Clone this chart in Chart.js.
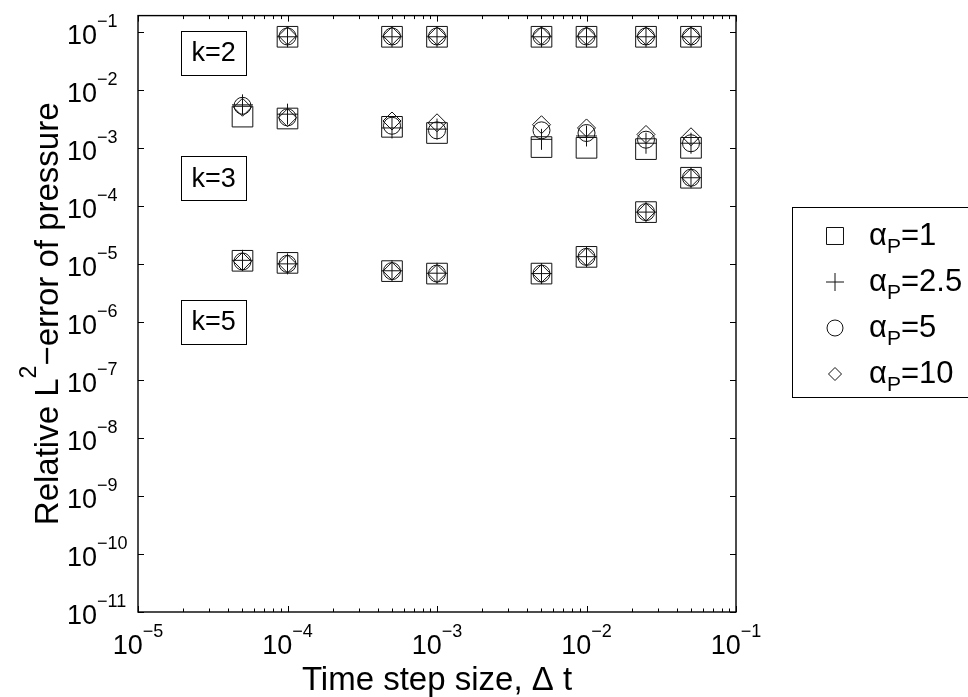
<!DOCTYPE html>
<html>
<head>
<meta charset="utf-8">
<script src="https://cdn.jsdelivr.net/npm/chart.js@4.4.0/dist/chart.umd.min.js"></script>
<style>
  html, body { margin: 0; padding: 0; background: #fff; }
  #wrap { width: 968px; height: 697px; position: relative; }
</style>
</head>
<body>
<div id="wrap"><canvas id="err-chart"></canvas></div>
<script>
// time step sizes
const dt = [5e-5, 1e-4, 5e-4, 1e-3, 5e-3, 1e-2, 2.5e-2, 5e-2];

// penalty parameters, one series each
const alphaP = ['1', '2.5', '5', '10'];

// relative L2 pressure error, rows follow alphaP
const errK2 = [
  [null, 0.082, 0.082, 0.082, 0.082, 0.082, 0.082, 0.082],
  [null, 0.082, 0.082, 0.082, 0.082, 0.082, 0.082, 0.082],
  [null, 0.083, 0.083, 0.083, 0.083, 0.083, 0.083, 0.083],
  [null, 0.085, 0.085, 0.085, 0.085, 0.085, 0.085, 0.085]
];
const errK3 = [
  [3.45e-3, 3.2e-3, 2.3e-3, 1.8e-3, 1.03e-3, 1.0e-3, 0.95e-3, 1.0e-3],
  [5.5e-3, 3.8e-3, 2.2e-3, 2.1e-3, 1.4e-3, 1.6e-3, 1.2e-3, 1.2e-3],
  [5.3e-3, 3.35e-3, 2.4e-3, 2.0e-3, 2.0e-3, 1.8e-3, 1.38e-3, 1.2e-3],
  [5.0e-3, 3.3e-3, 2.9e-3, 2.7e-3, 2.5e-3, 2.2e-3, 1.7e-3, 1.55e-3]
];
const errK5 = [
  [1.13e-5, 1.04e-5, 7.5e-6, 6.8e-6, 6.8e-6, 1.32e-5, 7.8e-5, 3.05e-4],
  [1.15e-5, 1.0e-5, 7.6e-6, 6.9e-6, 6.8e-6, 1.33e-5, 7.8e-5, 3.05e-4],
  [1.1e-5, 1.0e-5, 7.5e-6, 6.8e-6, 6.8e-6, 1.32e-5, 7.8e-5, 3.05e-4],
  [1.1e-5, 1.0e-5, 7.5e-6, 6.8e-6, 6.8e-6, 1.32e-5, 7.8e-5, 3.05e-4]
];

// polynomial degree annotations
const kLabels = ['k=2', 'k=3', 'k=5'];
const kLabelX = [3.2e-5, 3.2e-5, 3.2e-5];
const kLabelY = [4.35e-2, 3.0e-4, 1.0e-6];

const FONT = '"Liberation Sans", Arial, Helvetica, sans-serif';
const markers = [
  { pointStyle: 'rect', radius: 14.6, legendRadius: 12 },
  { pointStyle: 'cross', radius: 10.5, legendRadius: 9 },
  { pointStyle: 'circle', radius: 8.5, legendRadius: 8 },
  { pointStyle: 'rectRot', radius: 9, legendRadius: 6.5 }
];

function seriesPoints(i) {
  const pts = [];
  [errK2, errK3, errK5].forEach(function(rows) {
    rows[i].forEach(function(v, j) {
      if (v !== null) pts.push({ x: dt[j], y: v });
    });
  });
  return pts;
}

const datasets = alphaP.map(function(a, i) {
  return {
    label: 'αP=' + a,
    data: seriesPoints(i),
    pointStyle: markers[i].pointStyle,
    pointRadius: markers[i].radius,
    pointBorderWidth: 1,
    pointBorderColor: '#111',
    pointBackgroundColor: 'rgba(0,0,0,0)',
    showLine: false
  };
});

// "10" with a raised exponent
function powLabel(ctx, exp, x, y, mode) {
  ctx.font = '27px ' + FONT;
  const wb = ctx.measureText('10').width;
  ctx.font = '18px ' + FONT;
  const we = ctx.measureText(exp).width;
  const x0 = mode === 'center' ? x - (wb + we) / 2 : x - wb;
  ctx.textAlign = 'left';
  ctx.textBaseline = 'alphabetic';
  ctx.font = '27px ' + FONT;
  ctx.fillText('10', x0, y);
  ctx.font = '18px ' + FONT;
  ctx.fillText(exp, x0 + wb, y - 17);
}

const axesFrame = {
  id: 'axesFrame',
  afterDraw(chart) {
    const ctx = chart.ctx;
    const xs = chart.scales.x, ys = chart.scales.y;
    const a = chart.chartArea;
    ctx.save();
    ctx.strokeStyle = '#000';
    ctx.fillStyle = '#000';

    // box
    ctx.lineWidth = 1.4;
    ctx.strokeRect(a.left, a.top, a.right - a.left, a.bottom - a.top);

    // x ticks, top and bottom, with minors
    ctx.lineWidth = 1;
    ctx.beginPath();
    for (let e = -5; e <= -1; e++) {
      for (let m = 1; m <= 9; m++) {
        if (e === -1 && m > 1) break;
        const px = Math.round(xs.getPixelForValue(m * Math.pow(10, e))) + 0.5;
        const len = m === 1 ? 6 : 3.5;
        ctx.moveTo(px, a.bottom); ctx.lineTo(px, a.bottom - len);
        ctx.moveTo(px, a.top); ctx.lineTo(px, a.top + len);
      }
    }
    // y ticks, left and right
    for (let e = -11; e <= -1; e++) {
      const py = Math.round(ys.getPixelForValue(Math.pow(10, e))) + 0.5;
      ctx.moveTo(a.left, py); ctx.lineTo(a.left + 6, py);
      ctx.moveTo(a.right, py); ctx.lineTo(a.right - 6, py);
    }
    ctx.stroke();

    // tick labels
    for (let e = -5; e <= -1; e++) {
      powLabel(ctx, '\u2212' + Math.abs(e), xs.getPixelForValue(Math.pow(10, e)), a.bottom + 42, 'center');
    }
    for (let e = -11; e <= -1; e++) {
      powLabel(ctx, '\u2212' + Math.abs(e), a.left - 41, ys.getPixelForValue(Math.pow(10, e)) + 12, 'base');
    }

    // axis titles
    ctx.font = '33px ' + FONT;
    ctx.textAlign = 'center';
    ctx.textBaseline = 'alphabetic';
    ctx.fillText('Time step size, \u0394 t', (a.left + a.right) / 2, 690);

    ctx.save();
    ctx.translate(58, (a.top + a.bottom) / 2);
    ctx.rotate(-Math.PI / 2);
    const t1 = 'Relative L', t2 = '\u2212error of pressure';
    ctx.font = '33px ' + FONT;
    const w1 = ctx.measureText(t1).width, w3 = ctx.measureText(t2).width;
    ctx.font = '23px ' + FONT;
    const w2 = ctx.measureText('2').width;
    let tx = -(w1 + w2 + w3) / 2;
    ctx.textAlign = 'left';
    ctx.font = '33px ' + FONT;
    ctx.fillText(t1, tx, 0);
    ctx.font = '23px ' + FONT;
    ctx.fillText('2', tx + w1, -22);
    ctx.font = '33px ' + FONT;
    ctx.fillText(t2, tx + w1 + w2, 0);
    ctx.restore();

    // k annotations
    ctx.lineWidth = 1;
    kLabels.forEach(function(txt, i) {
      const cx = xs.getPixelForValue(kLabelX[i]);
      const cy = ys.getPixelForValue(kLabelY[i]);
      ctx.strokeRect(Math.round(cx - 32.5) + 0.5, Math.round(cy - 22) + 0.5, 65, 44);
      ctx.font = '27px ' + FONT;
      ctx.textAlign = 'center';
      ctx.textBaseline = 'middle';
      ctx.fillText(txt, cx, cy + 1);
    });

    // legend
    const lx = 792.5, ly = 207.5;
    ctx.strokeRect(lx, ly, 200, 190);
    alphaP.forEach(function(a, i) {
      const my = 236 + i * 46;
      ctx.fillStyle = 'rgba(0,0,0,0)';
      ctx.strokeStyle = '#111';
      Chart.helpers.drawPoint(ctx, {
        pointStyle: markers[i].pointStyle,
        radius: markers[i].legendRadius,
        rotation: 0,
        borderWidth: 1
      }, 835, my);
      ctx.fillStyle = '#000';
      ctx.textAlign = 'left';
      ctx.textBaseline = 'alphabetic';
      ctx.font = '31px ' + FONT;
      const wa = ctx.measureText('\u03b1').width;
      ctx.fillText('\u03b1', 869, my + 9);
      ctx.font = '21px ' + FONT;
      const wp = ctx.measureText('P').width;
      ctx.fillText('P', 869 + wa, my + 17);
      ctx.font = '31px ' + FONT;
      ctx.fillText('=' + a, 869 + wa + wp, my + 9);
    });

    ctx.restore();
  }
};

new Chart(document.getElementById('err-chart').getContext('2d'), {
  type: 'scatter',
  data: { datasets: datasets },
  options: {
    responsive: true,
    maintainAspectRatio: false,
    animation: false,
    events: [],
    layout: { padding: { left: 138, top: 15, right: 232, bottom: 85 } },
    plugins: { legend: { display: false }, tooltip: { enabled: false } },
    scales: {
      x: { type: 'logarithmic', min: 1e-5, max: 1e-1, display: false },
      y: { type: 'logarithmic', min: 1e-11, max: 0.19, display: false }
    }
  },
  plugins: [axesFrame]
});
</script>
</body>
</html>
